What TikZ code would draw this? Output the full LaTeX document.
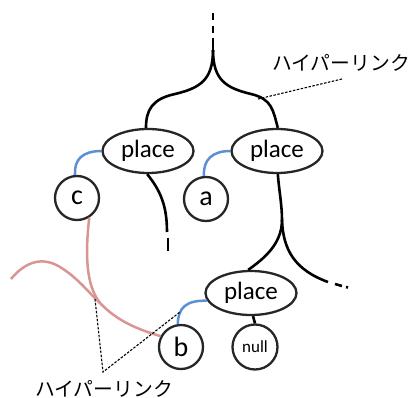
\documentclass[tikz,border=0pt]{standalone}
\usepackage{fontspec}
\setmainfont{Carlito}
\newfontfamily\jp{Noto Sans CJK JP}
\usetikzlibrary{shapes.geometric}
\definecolor{edgegray}{HTML}{262626}
\definecolor{linkblue}{HTML}{5B8FD6}
\definecolor{linkpink}{HTML}{D99594}
\tikzset{
  placebox/.style={ellipse, draw=edgegray, line width=2.3pt, fill=white, minimum width=91pt, minimum height=44pt, inner sep=0pt, font=\fontsize{25}{27}\selectfont},
  leafbox/.style={circle, draw=edgegray, line width=2.3pt, fill=white, minimum size=44pt, inner sep=0pt, font=\fontsize{28}{30}\selectfont},
  nullbox/.style={circle, draw=edgegray, line width=2.3pt, fill=white, minimum size=45pt, inner sep=0pt, font=\fontsize{17}{19}\selectfont},
  tree/.style={line width=2.6pt, black},
  bluelink/.style={line width=2.5pt, linkblue},
  pinklink/.style={line width=2.5pt, linkpink},
  pointer/.style={line width=1.1pt, black, dash pattern=on 2.5pt off 1.5pt},
  jplabel/.style={font=\jp\fontsize{19.8}{21}\selectfont, inner sep=0pt}
}
\begin{document}
\begin{tikzpicture}[x=1pt,y=-1pt]
\useasboundingbox (0,0) rectangle (409,398);
% nodes
\node[placebox] (p1) at (148,151) {place};
\node[placebox] (p2) at (277,151) {place};
\node[placebox] (p3) at (251,293) {place};
\node[leafbox] (c) at (77,198) {c};
\node[leafbox] (a) at (206,199) {a};
\node[leafbox] (b) at (181,347) {b};
\node[nullbox] (n) at (255,347) {null};
\node[jplabel] (lt) at (341,63) {ハイパーリンク};
\node[jplabel] (lb) at (104,388.5) {ハイパーリンク};
% coordinates
\coordinate (t0) at (213,13);
\coordinate (t1) at (213,20);
\coordinate (t2) at (213,26);
\coordinate (t3) at (213,33);
\coordinate (t4) at (213,38);
\coordinate (fk) at (213,50);
\coordinate (d1a) at (168,238);
\coordinate (d1b) at (168,251);
\coordinate (fk2) at (282,220);
\coordinate (e2) at (328,282);
\coordinate (e3a) at (335,284);
\coordinate (e3b) at (342,286);
\coordinate (e4a) at (346,287);
\coordinate (e4b) at (348,287.5);
\coordinate (hp) at (258,99);
\coordinate (hl) at (342,79);
\coordinate (mg) at (100,303);
\coordinate (ps) at (11,279);
\coordinate (pp) at (95,299);
\coordinate (bp) at (180,312);
\coordinate (apex) at (103,372);
% tree lines
\draw[tree] (t0) -- (t1);
\draw[tree] (t2) -- (t3);
\draw[tree] (t4) -- (fk);
\draw[tree] (fk) .. controls (213,80) and (200,88) .. (175,94) .. controls (152,99) and (146,110) .. (p1.95);
\draw[tree] (fk) .. controls (213,80) and (226,88) .. (251,94) .. controls (272,99) and (273,110) .. (p2.88);
\draw[tree] (p1.-92) .. controls (160,190) and (167,205) .. (167,232);
\draw[tree] (d1a) -- (d1b);
\draw[tree] (p2.-88) .. controls (279,190) and (282,205) .. (fk2);
\draw[tree] (fk2) .. controls (282,245) and (262,260) .. (p3.97);
\draw[tree] (fk2) .. controls (283,250) and (295,270) .. (e2);
\draw[tree] (e3a) -- (e3b);
\draw[tree] (e4a) -- (e4b);
\draw[tree] (p3.-85) -- (n.north);
% blue links
\draw[bluelink] (c.95) .. controls (74,160) and (82,151) .. (p1.west);
\draw[bluelink] (a.95) .. controls (203,160) and (212,151) .. (p2.west);
\draw[bluelink] (b.98) .. controls (178,308) and (186,300) .. (p3.190);
% pink links
\draw[pinklink] (c.-58) .. controls (85,255) and (86,285) .. (mg) .. controls (118,322) and (140,330) .. (b.152);
\draw[pinklink] (ps) .. controls (25,262) and (42,256) .. (60,267) .. controls (78,278) and (88,292) .. (mg);
% pointers
\draw[pointer] (hl) -- (hp);
\draw[pointer] (pp) -- (apex) -- (bp);
\end{tikzpicture}
\end{document}
